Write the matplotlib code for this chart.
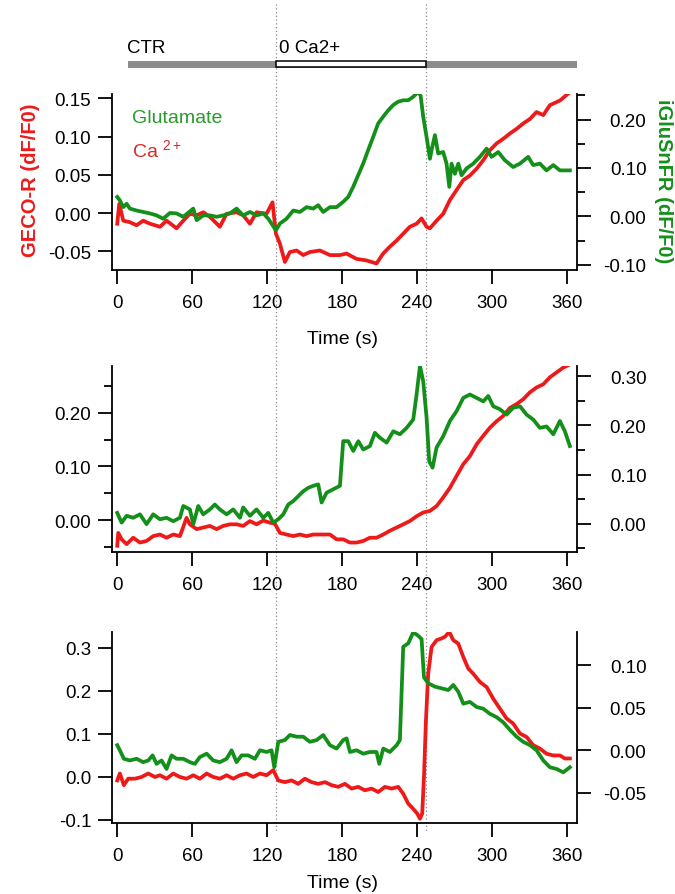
import matplotlib

matplotlib.use("Agg")

import matplotlib.pyplot as plt  # noqa: E402
from matplotlib.ticker import FormatStrFormatter, MultipleLocator, NullLocator  # noqa: E402

plt.rcParams["font.family"] = ["Liberation Sans", "DejaVu Sans"]
plt.rcParams["axes.unicode_minus"] = False
plt.rcParams["mathtext.fontset"] = "custom"
plt.rcParams["mathtext.rm"] = "Liberation Sans"

RED = "#ee1a1a"
GREEN = "#14901a"

# solution switches (s): CTR -> 0 Ca2+ -> CTR
ctr_start = 8.6
zero_ca_start = 127.5
zero_ca_end = 247.5
ctr_end = 368.3

# ---- cell 1 ----
t_ca1 = [0, 1.6, 4.8, 10.1, 15.5, 20.8, 26.2, 34.2, 39.5, 47.5, 52.9, 58.2, 63.6, 68.9, 74.2,
         82.2, 87.6, 95.6, 100.9, 106.3, 111.6, 119.6, 124.4, 127.1, 130.3, 134.3, 138.3, 143.7,
         149.0, 154.3, 162.3, 170.4, 178.4, 183.7, 191.7, 199.7, 207.7, 213.0, 218.4, 223.8, 229.1,
         234.4, 239.8, 243.8, 247.8, 250.5, 255.8, 261.1, 266.5, 271.8, 277.2, 282.5, 287.9, 293.2,
         298.5, 303.9, 309.2, 314.6, 319.9, 325.2, 330.6, 335.9, 341.3, 346.6, 354.6, 362.6]
ca1 = [-0.014, 0.012, -0.010, -0.012, -0.016, -0.010, -0.014, -0.018, -0.010, -0.020, -0.010,
       -0.001, -0.003, 0.001, -0.005, -0.018, -0.001, 0.001, -0.003, -0.014, 0.001, -0.001, 0.014,
       -0.027, -0.040, -0.064, -0.051, -0.049, -0.055, -0.051, -0.049, -0.055, -0.055, -0.053,
       -0.060, -0.062, -0.066, -0.053, -0.044, -0.036, -0.027, -0.018, -0.014, -0.007, -0.018,
       -0.020, -0.010, -0.001, 0.017, 0.030, 0.043, 0.049, 0.058, 0.069, 0.082, 0.091, 0.097,
       0.104, 0.110, 0.117, 0.123, 0.132, 0.128, 0.141, 0.147, 0.158]
t_glu1 = [0, 2.1, 4.8, 7.5, 10.1, 15.5, 20.8, 26.2, 31.5, 36.8, 42.2, 47.5, 52.9, 60.9, 63.6,
          68.9, 74.2, 79.6, 84.9, 90.3, 95.6, 100.9, 106.3, 111.6, 117.0, 121.0, 123.6, 127.1,
          130.3, 135.6, 141.0, 146.3, 151.7, 157.0, 161.0, 165.0, 170.4, 175.7, 181.0, 185.0,
          189.0, 193.0, 197.0, 201.0, 205.0, 209.0, 213.0, 217.0, 221.0, 225.0, 229.0, 233.0,
          237.0, 241.0, 243.0, 245.1, 247.8, 250.5, 251.8, 254.5, 257.1, 261.1, 263.8, 266.0,
          267.8, 270.5, 273.2, 275.8, 279.8, 285.2, 290.5, 295.9, 299.9, 305.2, 310.5, 317.2,
          322.6, 329.2, 333.2, 338.6, 343.9, 349.3, 354.6, 362.6]
glu1 = [0.040, 0.033, 0.019, 0.026, 0.016, 0.012, 0.009, 0.006, 0.002, -0.005, 0.007, 0.006,
        -0.001, 0.016, -0.008, 0.002, 0.002, -0.001, 0.002, 0.006, 0.016, 0.002, 0.009, 0.002,
        0.006, -0.005, -0.015, -0.029, -0.015, -0.005, 0.012, 0.009, 0.019, 0.016, 0.023, 0.009,
        0.019, 0.019, 0.030, 0.040, 0.061, 0.085, 0.109, 0.137, 0.164, 0.192, 0.206, 0.219, 0.230,
        0.237, 0.240, 0.240, 0.247, 0.257, 0.250, 0.206, 0.164, 0.119, 0.137, 0.168, 0.130, 0.133,
        0.109, 0.061, 0.109, 0.088, 0.109, 0.085, 0.099, 0.109, 0.123, 0.140, 0.123, 0.133, 0.116,
        0.102, 0.109, 0.123, 0.106, 0.109, 0.095, 0.106, 0.095, 0.095]

# ---- cell 2 ----
t_ca2 = [0, 0.8, 3.5, 7.5, 12.8, 18.2, 23.5, 28.8, 34.2, 39.5, 44.9, 50.2, 55.5, 58.2, 63.6,
         68.9, 74.2, 79.6, 84.9, 90.3, 95.6, 100.9, 106.3, 111.6, 117.0, 122.3, 126.3, 130.3,
         135.6, 141.0, 146.3, 151.7, 157.0, 165.0, 170.4, 175.7, 181.0, 186.4, 191.7, 197.1, 202.4,
         207.7, 213.1, 218.4, 223.8, 229.1, 234.4, 239.8, 245.1, 250.5, 255.8, 261.1, 266.5, 271.8,
         277.2, 282.5, 287.9, 293.2, 298.5, 303.9, 309.2, 314.6, 319.9, 325.2, 330.6, 335.9, 341.3,
         346.6, 351.9, 357.3, 362.6]
ca2 = [-0.048, -0.024, -0.036, -0.045, -0.033, -0.042, -0.039, -0.030, -0.027, -0.033, -0.027,
       -0.030, 0.004, -0.008, -0.017, -0.014, -0.011, -0.017, -0.011, -0.008, -0.008, -0.011,
       -0.002, -0.008, -0.001, -0.005, -0.007, -0.024, -0.027, -0.030, -0.027, -0.030, -0.027,
       -0.027, -0.027, -0.036, -0.036, -0.042, -0.042, -0.039, -0.033, -0.033, -0.027, -0.020,
       -0.014, -0.008, -0.002, 0.007, 0.014, 0.017, 0.026, 0.042, 0.060, 0.082, 0.104, 0.119,
       0.141, 0.157, 0.172, 0.184, 0.194, 0.209, 0.216, 0.225, 0.238, 0.247, 0.253, 0.266, 0.275,
       0.284, 0.290]
t_glu2 = [0, 3.5, 7.5, 12.8, 18.2, 23.5, 28.8, 34.2, 39.5, 44.9, 50.2, 52.9, 58.2, 60.9, 64.9,
          68.9, 74.2, 78.2, 82.2, 87.6, 92.9, 98.3, 100.9, 106.3, 111.6, 117.0, 121.0, 125.0,
          129.0, 133.0, 137.0, 141.0, 145.0, 149.0, 153.0, 157.0, 161.0, 163.7, 167.7, 173.0,
          178.4, 181.0, 185.0, 189.1, 193.1, 197.1, 202.4, 206.4, 210.4, 215.8, 221.1, 226.4,
          231.8, 237.1, 239.8, 242.5, 245.1, 247.8, 249.9, 252.6, 255.8, 261.1, 266.5, 271.8,
          277.2, 282.5, 287.9, 293.2, 297.2, 301.2, 306.5, 311.9, 317.2, 322.6, 327.9, 333.2,
          338.6, 343.9, 349.3, 354.6, 358.6, 362.6]
glu2 = [0.022, 0.002, 0.016, 0.012, 0.019, -0.001, 0.019, 0.009, 0.012, 0.005, 0.012, 0.036,
        0.029, -0.001, 0.036, 0.019, 0.029, 0.039, 0.029, 0.019, 0.029, 0.012, 0.033, 0.016, 0.029,
        0.012, 0.022, 0.002, 0.009, 0.019, 0.039, 0.046, 0.056, 0.066, 0.073, 0.077, 0.080, 0.043,
        0.063, 0.070, 0.077, 0.168, 0.168, 0.148, 0.168, 0.151, 0.158, 0.185, 0.175, 0.165, 0.188,
        0.182, 0.195, 0.212, 0.263, 0.321, 0.290, 0.216, 0.127, 0.114, 0.155, 0.178, 0.209, 0.229,
        0.256, 0.263, 0.256, 0.249, 0.260, 0.239, 0.233, 0.222, 0.236, 0.239, 0.222, 0.212, 0.195,
        0.198, 0.182, 0.209, 0.188, 0.158]

# ---- cell 3 ----
t_ca3 = [0, 2.1, 5.3, 8.8, 14.2, 19.5, 24.8, 30.2, 34.2, 39.5, 44.9, 50.2, 55.5, 60.9, 66.2,
         71.6, 76.9, 82.2, 87.6, 92.9, 98.3, 103.6, 108.9, 114.3, 119.6, 125.0, 129.0, 134.3,
         139.7, 145.0, 150.3, 155.7, 161.0, 166.4, 171.7, 177.0, 182.4, 187.7, 193.1, 198.4, 203.7,
         209.1, 214.4, 219.8, 225.1, 229.1, 233.1, 237.1, 240.3, 242.5, 244.3, 245.7, 247.3, 249.1,
         251.8, 255.8, 259.8, 262.5, 266.0, 269.2, 273.2, 277.2, 281.2, 285.2, 290.5, 295.9, 301.2,
         306.5, 311.9, 317.2, 322.6, 327.9, 333.2, 338.6, 343.9, 349.3, 354.6, 358.6, 362.6]
ca3 = [-0.008, 0.008, -0.019, -0.004, -0.004, 0.0, 0.008, 0.0, 0.004, -0.004, 0.008, 0.0, -0.004,
       0.004, -0.004, 0.008, 0.0, -0.004, 0.004, -0.004, 0.004, 0.008, 0.0, 0.008, 0.004, 0.016,
       -0.008, -0.012, -0.008, -0.016, -0.004, -0.012, -0.016, -0.012, -0.019, -0.023, -0.016,
       -0.027, -0.023, -0.031, -0.027, -0.035, -0.023, -0.027, -0.023, -0.039, -0.062, -0.074,
       -0.085, -0.097, -0.085, 0.0, 0.132, 0.240, 0.302, 0.318, 0.322, 0.326, 0.337, 0.318, 0.310,
       0.279, 0.252, 0.240, 0.221, 0.209, 0.182, 0.159, 0.136, 0.124, 0.101, 0.093, 0.074, 0.066,
       0.054, 0.050, 0.050, 0.043, 0.043]
t_glu3 = [0, 2.1, 5.3, 10.1, 15.5, 20.8, 24.8, 28.3, 31.5, 35.5, 39.5, 43.5, 47.5, 52.9, 58.2,
          62.2, 66.2, 71.6, 76.9, 82.2, 87.6, 91.6, 95.6, 99.6, 104.9, 110.3, 114.3, 119.6, 123.6,
          125.8, 129.0, 134.3, 138.3, 143.7, 149.0, 154.3, 159.7, 165.0, 170.4, 175.7, 181.0,
          183.7, 186.4, 191.7, 197.1, 202.4, 207.7, 209.9, 213.1, 218.4, 223.8, 226.4, 229.1,
          233.1, 237.1, 241.1, 243.8, 245.7, 249.1, 254.5, 259.8, 265.2, 269.2, 273.2, 277.2,
          282.5, 287.9, 293.2, 298.5, 303.9, 309.2, 314.6, 319.9, 325.2, 330.6, 335.9, 341.3,
          346.6, 351.9, 357.3, 362.6]
glu3 = [0.006, 0.0, -0.010, -0.012, -0.010, -0.014, -0.012, -0.006, -0.016, -0.012, -0.022,
        -0.006, -0.010, -0.010, -0.014, -0.016, -0.008, -0.004, -0.012, -0.014, -0.010, 0.0,
        -0.014, -0.006, -0.006, -0.010, 0.0, -0.002, 0.0, -0.020, 0.010, 0.012, 0.018, 0.016,
        0.016, 0.010, 0.012, 0.018, 0.006, 0.002, 0.012, 0.014, -0.002, 0.0, -0.004, -0.002,
        -0.002, -0.016, 0.002, -0.002, 0.006, 0.012, 0.122, 0.126, 0.139, 0.135, 0.131, 0.086,
        0.079, 0.075, 0.073, 0.071, 0.077, 0.069, 0.055, 0.057, 0.051, 0.049, 0.043, 0.039,
        0.033, 0.024, 0.016, 0.010, 0.006, 0.0, -0.012, -0.020, -0.022, -0.026, -0.020]

W, H = 675, 895
X_LEFT, X_RIGHT = 112, 577
XLIM = (-4.2, 368.3)
TICK_SIZE = 13.5


def px_axes(fig, left, top, right, bottom, **kw):
    return fig.add_axes([left / W, 1 - bottom / H, (right - left) / W, (bottom - top) / H], **kw)


def draw_cell(fig, top, bottom, t_ca, ca, t_glu, glu, left_cfg, right_cfg):
    ax = px_axes(fig, X_LEFT, top, X_RIGHT, bottom, facecolor="none")
    tw = ax.twinx()
    tw.set_facecolor("none")

    ax.plot(t_ca, ca, color=RED, lw=2.7, zorder=3)
    tw.plot(t_glu, glu, color=GREEN, lw=2.7, zorder=2)

    ax.set_xlim(*XLIM)
    ax.xaxis.set_major_locator(MultipleLocator(60))
    for a, (lim, major, minor, fmt) in ((ax, left_cfg), (tw, right_cfg)):
        a.set_ylim(*lim)
        a.yaxis.set_major_locator(MultipleLocator(major))
        a.yaxis.set_minor_locator(MultipleLocator(minor) if minor else NullLocator())
        a.yaxis.set_major_formatter(FormatStrFormatter(fmt))
        a.spines["top"].set_visible(False)
        for s in a.spines.values():
            s.set_linewidth(1.3)

    ax.spines["right"].set_visible(False)
    tw.spines["left"].set_visible(False)
    tw.spines["bottom"].set_visible(False)

    ax.tick_params(axis="x", which="major", direction="out", length=10, width=1.3,
                   labelsize=TICK_SIZE, pad=7)
    ax.tick_params(axis="y", which="major", direction="out", length=10, width=1.3,
                   labelsize=TICK_SIZE, pad=5)
    ax.tick_params(axis="y", which="minor", direction="out", length=5.5, width=1.3)
    tw.tick_params(axis="y", which="major", direction="out", length=10, width=1.3,
                   labelsize=TICK_SIZE, pad=40)
    tw.tick_params(axis="y", which="minor", direction="out", length=5.5, width=1.3)
    for tick in tw.yaxis.get_major_ticks():
        tick.label2.set_horizontalalignment("right")
    return ax


def main() -> None:
    fig = plt.figure(figsize=(W / 100, H / 100), dpi=100)

    # dotted markers of the solution change, running through all panels
    guide = px_axes(fig, X_LEFT, 5, X_RIGHT, 832)
    guide.set_xlim(*XLIM)
    guide.set_ylim(832, 5)
    guide.vlines([zero_ca_start, zero_ca_end], 5, 832, colors="#8a8a8a", linestyles=(0, (1, 2)),
                 lw=0.9)
    guide.axis("off")

    # solution bar
    bar = px_axes(fig, X_LEFT, 30, X_RIGHT, 80, facecolor="none")
    bar.set_xlim(*XLIM)
    bar.set_ylim(80, 30)
    bar.barh(65, ctr_end - ctr_start, left=ctr_start, height=7, color="#8c8c8c")
    bar.barh(65, zero_ca_end - zero_ca_start, left=zero_ca_start, height=6, color="white",
             edgecolor="black", lw=1.1)
    bar.axis("off")
    fig.text(127 / W, 1 - 53 / H, "CTR", fontsize=13.5, va="baseline")
    fig.text(279 / W, 1 - 53 / H, "0 Ca2+", fontsize=13.5, va="baseline")

    ax1 = draw_cell(fig, 95, 271, t_ca1, ca1, t_glu1, glu1,
                    ((-0.0745, 0.1556), 0.05, None, "%.2f"),
                    ((-0.111, 0.253), 0.1, 0.05, "%.2f"))
    draw_cell(fig, 367, 553, t_ca2, ca2, t_glu2, glu2,
              ((-0.0596, 0.287), 0.1, 0.05, "%.2f"),
              ((-0.0577, 0.321), 0.1, 0.05, "%.2f"))
    draw_cell(fig, 633, 824, t_ca3, ca3, t_glu3, glu3,
              ((-0.107, 0.337), 0.1, None, "%.1f"),
              ((-0.0857, 0.1394), 0.05, None, "%.2f"))

    fig.text(342 / W, 1 - 340 / H, "Time (s)", fontsize=14, ha="center", va="center")
    fig.text(342 / W, 1 - 884 / H, "Time (s)", fontsize=14, ha="center", va="center")

    fig.text(31 / W, 1 - 180 / H, "GECO-R (dF/F0)", color=RED, fontsize=14.5,
             fontweight="bold", rotation=90, ha="center", va="center")
    fig.text(663 / W, 1 - 181 / H, "iGluSnFR (dF/F0)", color=GREEN, fontsize=14.5,
             fontweight="bold", rotation=270, ha="center", va="center")

    ax1.text(132 / W, 1 - 123 / H, "Glutamate", transform=fig.transFigure, color="#2a9a2a",
             fontsize=14, va="baseline")
    ax1.text(132 / W, 1 - 158 / H, r"Ca $^{\mathregular{2+}}$", transform=fig.transFigure,
             color="#d42a2a", fontsize=14, va="baseline")

    fig.savefig("out.png", dpi=100)
    plt.close(fig)


if __name__ == "__main__":
    main()
